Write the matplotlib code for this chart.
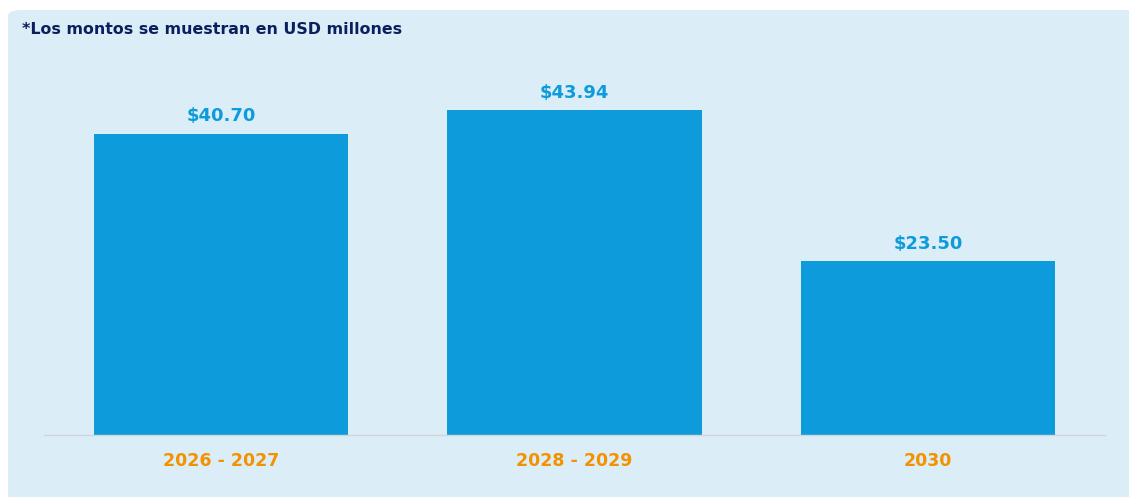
import matplotlib.pyplot as plt
from matplotlib.patches import FancyBboxPatch

periodos = ["2026 - 2027", "2028 - 2029", "2030"]
montos = [40.70, 43.94, 23.50]
etiquetas = ["$40.70", "$43.94", "$23.50"]

fondo = "#DBEEF7"
azul = "#0E9BDB"
naranja = "#F39200"
marino = "#0B1F5E"

plt.rcParams['font.family'] = ['DejaVu Sans']

fig = plt.figure(figsize=(11.29, 4.97), dpi=100)

# panel de fondo con la esquina redondeada
panel = FancyBboxPatch((8 / 1129, -0.1), 1.1, 1.1 - 10 / 497,
                       boxstyle="round,pad=0,rounding_size=0.012",
                       transform=fig.transFigure, facecolor=fondo,
                       edgecolor='none', zorder=-5)
fig.patches.append(panel)

fig.text(22 / 1129, 1 - 30 / 497, "*Los montos se muestran en USD millones",
         fontsize=11.4, fontweight='bold', color=marino, va='center', ha='left')

ax = fig.add_axes([44 / 1129, 62 / 497, 1061 / 1129, 370 / 497])
ax.set_facecolor('none')

x = range(len(periodos))
ax.bar(x, montos, width=0.72, color=azul, zorder=2)

for i, (v, t) in enumerate(zip(montos, etiquetas)):
    ax.annotate(t, (i, v), xytext=(0, 6), textcoords='offset points',
                ha='center', va='bottom', fontsize=13, fontweight='bold', color=azul)

ax.set_xlim(-0.5, 2.5)
ax.set_ylim(0, 50)
ax.set_xticks(list(x))
ax.set_xticklabels(periodos, fontsize=12.5, fontweight='bold', color=naranja)
ax.tick_params(axis='x', length=0, pad=12)
ax.set_yticks([])

for s in ['top', 'right', 'left']:
    ax.spines[s].set_visible(False)
ax.spines['bottom'].set_color('#CFD6DA')
ax.spines['bottom'].set_linewidth(1)

fig.savefig("out.png", dpi=100)
